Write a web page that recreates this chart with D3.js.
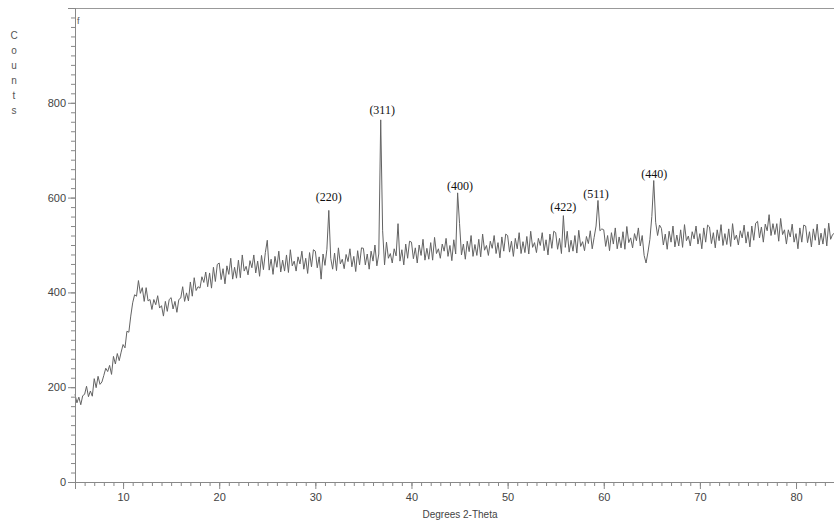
<!DOCTYPE html>
<html>
  <head>
    <meta charset="utf-8">
    <script src="https://d3js.org/d3.v7.min.js"></script>
    <style>
      body { margin: 0; background: #fff; }
      svg { display: block; }
    </style>
  </head>
  <body>
    <script type="text/javascript">
      // 2-theta grid start / step (degrees), counts every 0.2 deg
      var thetaStart = 5.0;
      var thetaStep = 0.2;
      var counts = [
        185,167,179,163,182, 185,202,180,192,181, 218,199,223,206,211, 225,240,233,246,227,
        265,249,271,256,274, 290,283,318,316,350, 378,395,392,425,398, 410,381,410,382,385,
        364,385,374,393,367, 372,350,381,360,385, 389,365,381,358,385, 388,412,381,399,382,
        422,392,431,404,412, 409,433,421,443,412, 441,409,453,423,459, 462,427,450,418,456,
        438,472,428,453,430, 468,431,479,445,455, 437,467,452,479,441, 466,434,478,448,484,
        510,447,470,438,476, 453,487,443,468,445, 479,442,490,456,466, 445,475,460,487,449,
        472,440,484,454,490, 487,452,475,428,481, 457,491,573,472,449, 483,446,494,460,470,
        450,480,465,492,454, 476,444,488,458,494, 493,458,481,449,487, 466,500,456,481,764,
        530,458,506,472,482, 462,492,477,545,466, 490,458,502,472,508, 506,471,494,462,500,
        478,512,468,493,470, 505,468,516,482,492, 472,502,487,514,476, 499,467,511,481,610,
        545,479,502,470,508, 486,520,476,501,478, 512,475,523,489,499, 478,508,493,520,482,
        505,473,517,487,523, 520,485,508,476,514, 492,526,482,507,484, 518,481,529,495,505,
        484,514,499,526,488, 511,479,523,493,529, 526,491,514,482,562, 495,529,485,510,487,
        520,483,531,497,507, 488,518,503,530,492, 516,540,594,530,534, 532,497,520,488,526,
        502,536,492,517,494, 528,491,539,505,515, 494,524,509,536,498, 520,478,462,485,512,
        560,636,548,520,542, 535,500,523,491,529, 506,540,496,521,498, 532,495,543,509,519,
        498,528,513,540,502, 524,492,536,506,542, 538,503,526,494,532, 509,543,499,524,501,
        534,497,545,511,521, 500,530,515,542,504, 528,496,540,510,546, 550,515,538,506,544,
        530,564,520,545,522, 545,508,556,522,532, 502,532,517,544,506, 524,492,536,506,542,
        540,505,528,496,534, 510,544,500,525,502, 535,498,546,512,522, 525
      ];

      // reflection labels: position (deg), label height (counts)
      var peakLabels = ["(220)", "(311)", "(400)", "(422)", "(511)", "(440)"];
      var peakTheta = [31.4, 36.95, 45.05, 55.8, 59.2, 65.25];
      var peakLabelCounts = [592, 777, 617, 571, 600, 642];

      var xMajor = [10, 20, 30, 40, 50, 60, 70, 80];
      var yMajor = [0, 200, 400, 600, 800];

      var w = 834, h = 522;
      var padL = 75, padR = 834, padT = 8, padB = 482;

      var x = d3.scaleLinear().domain([5, 83.95]).range([padL, padR]);
      var y = d3.scaleLinear().domain([0, 1000]).range([padB, padT]);

      var data = counts.map((c, i) => ({ t: thetaStart + i * thetaStep, c: c }));

      var svg = d3.select("body").append("svg")
        .attr("width", w)
        .attr("height", h);

//top border
      svg.append("line")
        .attr("x1", padL).attr("x2", padR)
        .attr("y1", padT + 0.5).attr("y2", padT + 0.5)
        .attr("stroke", "#999").attr("stroke-width", 1);

//scan trace
      var line = d3.line()
        .x(d => x(d.t))
        .y(d => y(d.c));

      svg.append("path").datum(data)
        .attr("fill", "none")
        .attr("stroke", "#636363")
        .attr("stroke-width", 1)
        .attr("stroke-linejoin", "round")
        .attr("d", line);

//axes
      var xMinor = d3.axisBottom(x).tickValues(d3.range(5, 84, 1)).tickSize(4).tickFormat("");
      var xAxis = d3.axisBottom(x).tickValues(xMajor).tickSize(7).tickPadding(4).tickFormat(d3.format("d"));
      var yMinor = d3.axisLeft(y).tickValues(d3.range(0, 1000, 20)).tickSize(4).tickFormat("");
      var yAxis = d3.axisLeft(y).tickValues(yMajor).tickSize(7).tickPadding(2).tickFormat(d3.format("d"));

      [xMinor, xAxis].forEach(a => {
        svg.append("g")
          .attr("transform", "translate(0," + padB + ")")
          .call(a);
      });
      [yMinor, yAxis].forEach(a => {
        svg.append("g")
          .attr("transform", "translate(" + padL + ",0)")
          .call(a);
      });

      svg.selectAll(".domain").attr("stroke", "#888");
      svg.selectAll(".tick line").attr("stroke", "#888");
      svg.selectAll(".tick text")
        .attr("fill", "#444")
        .style("font-family", "Liberation Sans, Arial, sans-serif")
        .style("font-size", "11px");

//axis titles
      svg.append("text")
        .attr("x", 460).attr("y", 518)
        .attr("text-anchor", "middle")
        .attr("fill", "#444")
        .style("font-family", "Liberation Sans, Arial, sans-serif")
        .style("font-size", "10px")
        .text("Degrees 2-Theta");

      svg.append("g").selectAll("text").data("Counts".split("")).enter().append("text")
        .attr("x", 14)
        .attr("y", (d, i) => 39 + i * 15)
        .attr("text-anchor", "middle")
        .attr("fill", "#555")
        .style("font-family", "Liberation Sans, Arial, sans-serif")
        .style("font-size", "10px")
        .text(d => d);

      svg.append("text")
        .attr("x", 77).attr("y", 24)
        .attr("fill", "#555")
        .style("font-family", "Liberation Sans, Arial, sans-serif")
        .style("font-size", "9px")
        .text("f");

//reflection labels
      svg.append("g").selectAll("text").data(peakLabels).enter().append("text")
        .attr("x", (d, i) => x(peakTheta[i]))
        .attr("y", (d, i) => y(peakLabelCounts[i]))
        .attr("text-anchor", "middle")
        .attr("fill", "#111")
        .style("font-family", "Liberation Serif, Times New Roman, serif")
        .style("font-size", "12px")
        .text(d => d);
    </script>
  </body>
</html>
